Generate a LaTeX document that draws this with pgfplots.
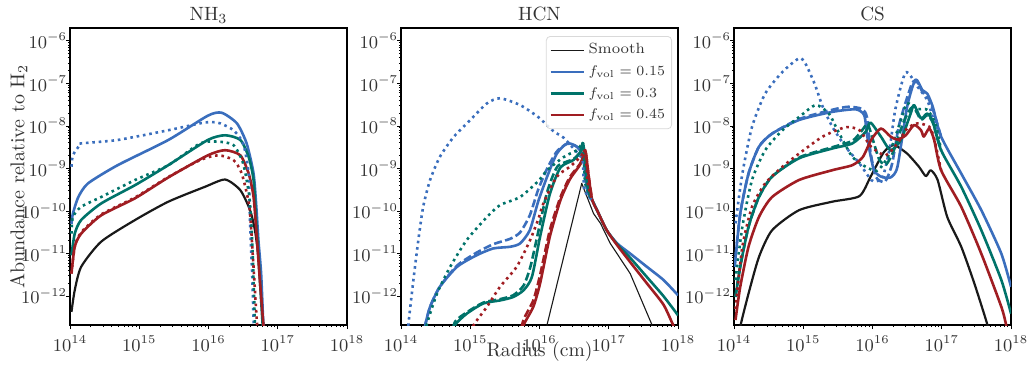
\documentclass[border=0pt]{standalone}
\usepackage{pgfplots}
\pgfplotsset{compat=1.18}
\definecolor{cblue}{HTML}{3A6EBD}
\definecolor{cteal}{HTML}{00736A}
\definecolor{cred}{HTML}{A01D22}
\tikzset{
 sm/.style={black!90, line width=1.1pt, line join=round, smooth, tension=0.4},
 smt/.style={black!90, line width=0.55pt, line join=round},
 bs/.style={cblue, line width=1.3pt, line join=round, smooth, tension=0.4},
 tls/.style={cteal, line width=1.3pt, line join=round, smooth, tension=0.4},
 rs/.style={cred, line width=1.3pt, line join=round, smooth, tension=0.4},
 lbs/.style={cblue, line width=1.3pt},
 lts/.style={cteal, line width=1.3pt},
 lrs/.style={cred, line width=1.3pt},
 dsh/.style={dash pattern=on 4pt off 1.7pt},
 dtt/.style={dash pattern=on 1.3pt off 1.9pt},
}
\pgfplotsset{
 every axis/.append style={
  width=138.5pt, height=148.5pt, scale only axis,
  xmin=1e14, xmax=1e18, ymin=2.1e-13, ymax=2e-6,
  xtick={1e14,1e15,1e16,1e17,1e18},
  ytick={1e-12,1e-11,1e-10,1e-9,1e-8,1e-7,1e-6},
  tick align=outside, tick pos=left,
  major tick length=2pt, minor tick length=1.1pt,
  every tick/.style={black, line width=0.4pt},
  axis line style={line width=0.6pt},
  tick label style={font=\fontsize{9}{11}\selectfont, text=black!80},
  every y tick label/.append style={xshift=4pt},
  every axis title/.style={at={(0.5,1)}, anchor=base, yshift=3.6pt, font=\fontsize{9.6}{12}\selectfont, text=black!80},
  every axis y label/.style={at={(axis description cs:-0.185,0.5)}, rotate=90, anchor=center, font=\fontsize{10}{12}\selectfont, text=black!80},
  every axis x label/.style={at={(axis description cs:0.5,0)}, yshift=-13.3pt, anchor=center, font=\fontsize{9.8}{12}\selectfont, text=black!80},
  anchor=south west,
 }
}
\begin{document}
\begin{tikzpicture}
% ---------------- NH3 ----------------
\begin{loglogaxis}[at={(0pt,0pt)}, title={NH$_3$}, ylabel={Abundance relative to H$_2$}]
\addplot[sm] coordinates {(1.05e14,4.27e-13)(1.17e14,1.38e-12)(1.45e14,4.9e-12)(2.82e14,1.91e-11)(8.71e14,6.17e-11)(2.63e15,1.66e-10)(8.91e15,3.72e-10)(1.74e16,5.50e-10)(2.88e16,3.09e-10)(3.98e16,1.05e-10)(4.68e16,3.55e-11)(5.25e16,8.51e-12)(5.75e16,1.38e-12)(6.31e16,1.26e-13)};
\addplot[bs] coordinates {(1.05e14,5.01e-11)(1.10e14,8.71e-11)(1.32e14,2.14e-10)(1.82e14,4.47e-10)(4.90e14,1.20e-9)(2.63e15,4.68e-9)(9.77e15,1.74e-8)(1.55e16,2.04e-8)(2.57e16,1.15e-8)(3.55e16,3.89e-9)(4.47e16,7.59e-10)(4.90e16,1.26e-10)(5.25e16,2.09e-11)(5.75e16,3.39e-12)(6.17e16,2.34e-13)(6.46e16,1e-13)};
\addplot[tls] coordinates {(1.05e14,9.12e-12)(1.17e14,2.95e-11)(1.45e14,6.17e-11)(2.82e14,1.51e-10)(8.71e14,4.07e-10)(2.63e15,1.20e-9)(9.77e15,4.68e-9)(1.74e16,6.03e-9)(2.88e16,4.68e-9)(3.80e16,1.86e-9)(4.47e16,5.37e-10)(4.90e16,5.25e-11)(5.37e16,5.01e-12)(6.03e16,2.34e-13)(6.31e16,1e-13)};
\addplot[rs] coordinates {(1.05e14,3.39e-12)(1.17e14,1.45e-11)(1.45e14,2.95e-11)(2.82e14,7.94e-11)(8.71e14,2.00e-10)(2.63e15,6.17e-10)(9.77e15,2.04e-9)(1.74e16,2.69e-9)(2.88e16,2.04e-9)(3.80e16,7.59e-10)(4.47e16,2.14e-10)(5.01e16,2.09e-11)(5.50e16,2.51e-12)(6.17e16,2.34e-13)(6.46e16,1e-13)};
\addplot[bs,dtt] coordinates {(1.05e14,1.10e-9)(1.10e14,2.04e-9)(1.38e14,3.55e-9)(1.45e14,3.89e-9)(4.90e14,4.68e-9)(2.63e15,7.94e-9)(7.94e15,1.17e-8)(1.12e16,1.23e-8)(1.48e16,1.15e-8)(2.29e16,7.94e-9)(3.16e16,3.89e-9)(3.80e16,7.59e-10)(3.98e16,5.13e-11)(4.27e16,3.39e-12)(4.47e16,2.75e-13)(4.57e16,1e-13)};
\addplot[tls,dtt] coordinates {(1.05e14,2.95e-11)(1.10e14,7.24e-11)(1.45e14,1.26e-10)(2.82e14,2.14e-10)(8.71e14,5.37e-10)(2.63e15,1.20e-9)(7.59e15,3.89e-9)(1.38e16,4.27e-9)(2.29e16,3.55e-9)(3.16e16,1.32e-9)(3.89e16,2.14e-10)(4.27e16,2.09e-11)(4.68e16,2.34e-13)(4.90e16,1e-13)};
\addplot[rs,dtt] coordinates {(1.05e14,3.39e-12)(1.17e14,1.45e-11)(1.45e14,3.16e-11)(2.82e14,8.32e-11)(8.71e14,2.09e-10)(2.63e15,6.31e-10)(7.59e15,1.58e-9)(1.38e16,2.04e-9)(2.29e16,1.58e-9)(3.02e16,7.59e-10)(3.89e16,1.26e-10)(4.37e16,8.51e-12)(5.01e16,2.34e-13)(5.37e16,1e-13)};
\end{loglogaxis}
% ---------------- HCN ----------------
\begin{loglogaxis}[at={(165.5pt,0pt)}, title={HCN}, xlabel={Radius (cm)},
  legend style={at={(1,1)}, anchor=north east, xshift=-3pt, yshift=-4pt,
   draw=black!15, rounded corners=2pt, fill=white, fill opacity=0.85, text opacity=1,
   font=\fontsize{7.4}{9}\selectfont, text=black!80, inner sep=1.5pt, row sep=0pt,
   nodes={inner sep=1.8pt, text height=5.4pt, text depth=1.8pt}},
  legend cell align=left,
  legend image code/.code={\draw[#1] (0pt,0pt) -- (16.5pt,0pt);}]
\addlegendimage{smt}\addlegendentry{Smooth}
\addlegendimage{lbs}\addlegendentry{$f_{\rm vol} = 0.15$}
\addlegendimage{lts}\addlegendentry{$f_{\rm vol} = 0.3$}
\addlegendimage{lrs}\addlegendentry{$f_{\rm vol} = 0.45$}
\addplot[smt, forget plot] coordinates {(1.23e16,1e-13)(1.29e16,2.19e-13)(4.07e16,4.47e-10)(6.03e16,8.71e-11)(7.59e16,5.13e-11)(1.05e17,1.74e-11)(2.04e17,3.39e-12)(4.17e17,2.19e-13)(4.57e17,1e-13)};
\addplot[bs, forget plot] coordinates {(2.14e14,1e-13)(2.24e14,2.09e-13)(2.63e14,5.62e-13)(3.63e14,1.66e-12)(6.46e14,4.90e-12)(1.23e15,9.12e-12)(2.14e15,1.32e-11)(3.80e15,1.45e-11)(5.25e15,1.74e-11)(7.24e15,3.55e-11)(9.55e15,1.66e-10)(1.29e16,6.46e-10)(1.78e16,2.24e-9)(2.51e16,3.89e-9)(3.47e16,3.24e-9)(4.27e16,1.86e-9)(4.79e16,3.72e-10)(5.37e16,2.00e-10)(5.75e16,1.82e-10)(6.76e16,1.05e-10)(9.33e16,3.55e-11)(1.32e17,1.74e-11)(2.04e17,1.00e-11)(3.55e17,4.90e-12)(6.17e17,2.40e-12)(1e18,1.05e-12)};
\addplot[bs, dsh, forget plot] coordinates {(2.14e14,1e-13)(2.24e14,2.09e-13)(2.63e14,5.62e-13)(3.63e14,1.66e-12)(6.46e14,5.25e-12)(1.23e15,1.05e-11)(2.14e15,1.66e-11)(3.80e15,2.24e-11)(5.25e15,3.16e-11)(7.24e15,7.94e-11)(9.55e15,3.16e-10)(1.29e16,1.0e-9)(1.78e16,2.51e-9)(2.51e16,3.80e-9)(3.47e16,3.24e-9)(4.27e16,1.86e-9)(4.79e16,3.72e-10)(5.37e16,2.00e-10)};
\addplot[tls, forget plot] coordinates {(5.62e14,1e-13)(6.03e14,2.09e-13)(8.91e14,3.89e-13)(1.55e15,6.76e-13)(2.69e15,7.94e-13)(4.17e15,9.55e-13)(5.89e15,1.38e-12)(7.76e15,2.82e-12)(1.02e16,2.51e-11)(1.41e16,2.51e-10)(2.00e16,1.05e-9)(3.09e16,1.58e-9)(3.89e16,2.45e-9)(4.27e16,3.89e-9)(4.79e16,5.37e-10)(5.37e16,2.24e-10)(5.75e16,1.82e-10)(6.76e16,1.05e-10)(9.33e16,3.55e-11)(1.32e17,1.66e-11)(2.04e17,7.94e-12)(3.55e17,2.82e-12)(6.17e17,1e-12)(1e18,3.55e-13)};
\addplot[tls, dsh, forget plot] coordinates {(5.25e14,1e-13)(6.03e14,2.51e-13)(8.91e14,4.17e-13)(1.55e15,7.08e-13)(2.69e15,8.51e-13)(4.17e15,1.05e-12)(5.89e15,1.78e-12)(7.41e15,5.01e-12)(9.55e15,3.16e-11)(1.29e16,2.82e-10)(1.82e16,1.12e-9)(3.09e16,1.66e-9)(3.89e16,2.45e-9)(4.27e16,3.89e-9)(4.79e16,5.37e-10)(5.37e16,2.24e-10)};
\addplot[rs, forget plot] coordinates {(5.50e15,1e-13)(5.89e15,2.09e-13)(8.13e15,5.62e-13)(1.02e16,2.00e-12)(1.41e16,2.51e-11)(2.00e16,1.78e-10)(2.75e16,5.62e-10)(3.89e16,1.26e-9)(4.57e16,2.69e-9)(5.13e16,6.46e-10)(5.75e16,1.82e-10)(6.76e16,1.05e-10)(9.33e16,3.55e-11)(1.32e17,1.58e-11)(2.04e17,6.31e-12)(3.55e17,2.00e-12)(6.17e17,6.31e-13)(8.51e17,2.09e-13)(1e18,1.26e-13)};
\addplot[rs, dsh, forget plot] coordinates {(5.01e15,1e-13)(5.89e15,2.82e-13)(8.13e15,7.94e-13)(1.02e16,3.16e-12)(1.41e16,3.55e-11)(2.00e16,2.09e-10)(2.75e16,6.31e-10)(3.89e16,1.32e-9)(4.57e16,2.69e-9)(5.13e16,6.46e-10)(5.75e16,1.82e-10)};
\addplot[bs, dtt, forget plot] coordinates {(1.23e14,1e-13)(1.29e14,2.51e-13)(1.51e14,2.40e-12)(1.78e14,2.09e-11)(2.09e14,1.26e-10)(2.63e14,5.37e-10)(3.63e14,1.86e-9)(5.75e14,5.50e-9)(1.00e15,1.38e-8)(1.74e15,3.39e-8)(2.69e15,4.47e-8)(5.25e15,3.09e-8)(9.55e15,1.62e-8)(1.58e16,7.59e-9)(2.24e16,5.25e-9)(3.09e16,2.95e-9)(4.17e16,1.58e-9)(4.37e16,3.55e-10)(4.79e16,2.51e-10)(5.75e16,1.82e-10)};
\addplot[tls, dtt, forget plot] coordinates {(2.24e14,1e-13)(2.34e14,2.09e-13)(3.31e14,1.15e-12)(5.13e14,4.90e-12)(8.91e14,2.09e-11)(1.74e15,7.24e-11)(2.69e15,1.38e-10)(5.25e15,2.14e-10)(9.55e15,5.01e-10)(1.29e16,9.12e-10)(2.24e16,1.86e-9)(3.47e16,2.69e-9)(4.27e16,3.55e-9)(4.57e16,4.47e-10)(5.75e16,1.82e-10)};
\addplot[rs, dtt, forget plot] coordinates {(1.00e15,1e-13)(1.12e15,2.09e-13)(1.74e15,5.62e-13)(2.69e15,1.66e-12)(4.68e15,4.90e-12)(7.24e15,2.00e-11)(9.55e15,6.31e-11)(1.15e16,1.58e-10)(1.78e16,6.46e-10)(2.75e16,1.10e-9)(3.89e16,1.86e-9)(4.57e16,2.51e-9)(5.01e16,4.47e-10)(5.75e16,1.82e-10)};
\end{loglogaxis}
% ---------------- CS ----------------
\begin{loglogaxis}[at={(332pt,0pt)}, title={CS}]
\addplot[sm] coordinates {(1.20e14,1e-13)(1.23e14,1.91e-13)(1.62e14,1.15e-12)(2.29e14,8.32e-12)(3.55e14,3.55e-11)(8.71e14,1.05e-10)(2.63e15,1.66e-10)(6.46e15,2.24e-10)(9.33e15,6.31e-10)(1.45e16,2.40e-9)(2.04e16,3.55e-9)(3.16e16,2.24e-9)(4.68e16,1.10e-9)(5.89e16,6.61e-10)(6.92e16,9.12e-10)(8.71e16,5.37e-10)(1.20e17,7.24e-11)(1.91e17,1.45e-11)(2.95e17,2.00e-12)(4.57e17,2.09e-13)(4.90e17,1e-13)};
\addplot[bs] coordinates {(1.02e14,4.90e-12)(1.23e14,8.71e-11)(1.62e14,7.59e-10)(2.29e14,3.24e-9)(3.55e14,6.61e-9)(8.71e14,1.38e-8)(2.63e15,2.14e-8)(5.75e15,2.45e-8)(7.59e15,1.78e-8)(8.32e15,6.31e-9)(9.12e15,2.51e-9)(1.05e16,9.12e-10)(1.32e16,6.46e-10)(1.82e16,6.17e-10)(2.29e16,1.10e-9)(3.16e16,2.82e-8)(4.17e16,1.23e-7)(5.25e16,6.92e-8)(6.17e16,5.75e-8)(7.41e16,2.82e-8)(9.77e16,5.62e-9)(1.91e17,7.59e-10)(3.72e17,1.05e-10)(7.24e17,1.00e-11)(1e18,1.66e-12)};
\addplot[bs, dsh] coordinates {(1.02e14,5.01e-12)(1.23e14,8.71e-11)(1.62e14,7.59e-10)(2.29e14,3.24e-9)(3.55e14,6.61e-9)(8.71e14,1.45e-8)(2.63e15,2.40e-8)(4.47e15,2.82e-8)(7.08e15,2.51e-8)(8.32e15,1.58e-8)(9.33e15,2.51e-9)(1.12e16,6.31e-10)(1.51e16,4.90e-10)(1.91e16,1.26e-9)(2.45e16,1.15e-8)(3.72e16,1.0e-7)(4.47e16,1.05e-7)(5.25e16,6.31e-8)(6.17e16,5.01e-8)(7.41e16,2.51e-8)(9.77e16,5.62e-9)};
\addplot[bs, dtt] coordinates {(1.05e14,5.13e-11)(1.32e14,7.59e-10)(1.82e14,9.55e-9)(2.82e14,5.75e-8)(5.01e14,1.86e-7)(8.71e14,3.89e-7)(1.07e15,2.95e-7)(1.45e15,1.00e-7)(1.91e15,2.82e-8)(2.63e15,9.55e-9)(4.07e15,3.24e-9)(6.46e15,1.32e-9)(9.55e15,5.37e-10)(1.12e16,5.01e-10)(1.41e16,6.31e-10)(1.78e16,3.16e-9)(2.14e16,2.51e-8)(3.02e16,1.82e-7)(4.47e16,8.32e-8)(6.17e16,4.07e-8)(7.41e16,1.62e-8)(9.77e16,5.62e-9)};
\addplot[tls] coordinates {(1.05e14,9.55e-13)(1.23e14,4.90e-12)(1.62e14,4.27e-11)(2.29e14,2.14e-10)(3.55e14,6.46e-10)(8.71e14,1.74e-9)(2.63e15,2.95e-9)(5.13e15,3.89e-9)(7.94e15,7.24e-9)(9.33e15,1.20e-8)(1.32e16,5.62e-9)(1.82e16,2.69e-9)(2.57e16,4.68e-9)(3.55e16,1.95e-8)(3.98e16,3.09e-8)(5.01e16,1.51e-8)(6.17e16,1.95e-8)(7.41e16,1.26e-8)(9.77e16,2.69e-9)(1.91e17,3.72e-10)(3.72e17,3.55e-11)(7.24e17,2.40e-12)(1e18,3.89e-13)};
\addplot[tls, dsh] coordinates {(1.05e14,1.0e-12)(1.23e14,5.01e-12)(1.62e14,4.27e-11)(2.29e14,2.14e-10)(3.55e14,6.46e-10)(8.71e14,1.82e-9)(2.63e15,3.16e-9)(5.13e15,4.47e-9)(7.08e15,7.94e-9)(8.51e15,1.12e-8)(1.0e16,5.01e-9)(1.26e16,1.58e-9)(1.58e16,1.26e-9)(2.0e16,2.51e-9)(2.82e16,1.26e-8)(3.80e16,2.82e-8)(5.01e16,1.41e-8)(6.17e16,1.78e-8)(7.41e16,1.20e-8)(9.77e16,2.69e-9)};
\addplot[tls, dtt] coordinates {(1.05e14,2.40e-12)(1.32e14,4.27e-11)(1.82e14,5.37e-10)(2.82e14,2.69e-9)(5.01e14,7.94e-9)(8.71e14,1.62e-8)(1.51e15,3.09e-8)(2.34e15,1.95e-8)(3.31e15,6.61e-9)(5.13e15,1.86e-9)(7.94e15,1.10e-9)(1.17e16,8.91e-10)(1.70e16,2.00e-9)(2.57e16,1.38e-8)(3.16e16,3.39e-8)(4.47e16,2.51e-8)(6.17e16,2.40e-8)(8.13e16,1.12e-8)(9.77e16,2.69e-9)};
\addplot[rs] coordinates {(1.05e14,2.75e-13)(1.23e14,1.66e-12)(1.62e14,1.45e-11)(2.29e14,7.24e-11)(3.55e14,2.14e-10)(8.71e14,5.37e-10)(2.63e15,9.12e-10)(5.13e15,1.20e-9)(7.24e15,1.86e-9)(9.55e15,4.68e-9)(1.32e16,8.71e-9)(1.82e16,5.62e-9)(2.29e16,4.79e-9)(3.02e16,6.03e-9)(3.98e16,1.05e-8)(5.01e16,7.94e-9)(5.50e16,5.62e-9)(6.61e16,8.71e-9)(7.76e16,4.68e-9)(9.77e16,9.12e-10)(1.91e17,1.26e-10)(3.72e17,1.00e-11)(7.24e17,5.62e-13)(8.51e17,2.09e-13)(9.33e17,1e-13)};
\addplot[rs, dtt] coordinates {(1.05e14,5.01e-13)(1.32e14,1.45e-11)(1.82e14,1.26e-10)(2.82e14,4.47e-10)(5.01e14,1.10e-9)(8.71e14,2.24e-9)(1.91e15,5.62e-9)(4.07e15,9.33e-9)(6.46e15,7.94e-9)(9.55e15,3.24e-9)(1.55e16,2.04e-9)(2.29e16,3.89e-9)(3.16e16,8.71e-9)(4.47e16,1.15e-8)(6.61e16,9.55e-9)(7.76e16,5.01e-9)(9.77e16,9.12e-10)};
\end{loglogaxis}
\pgfresetboundingbox
\path[use as bounding box] (-35pt,-22.5pt) rectangle (481pt,162.5pt);
\end{tikzpicture}
\end{document}
